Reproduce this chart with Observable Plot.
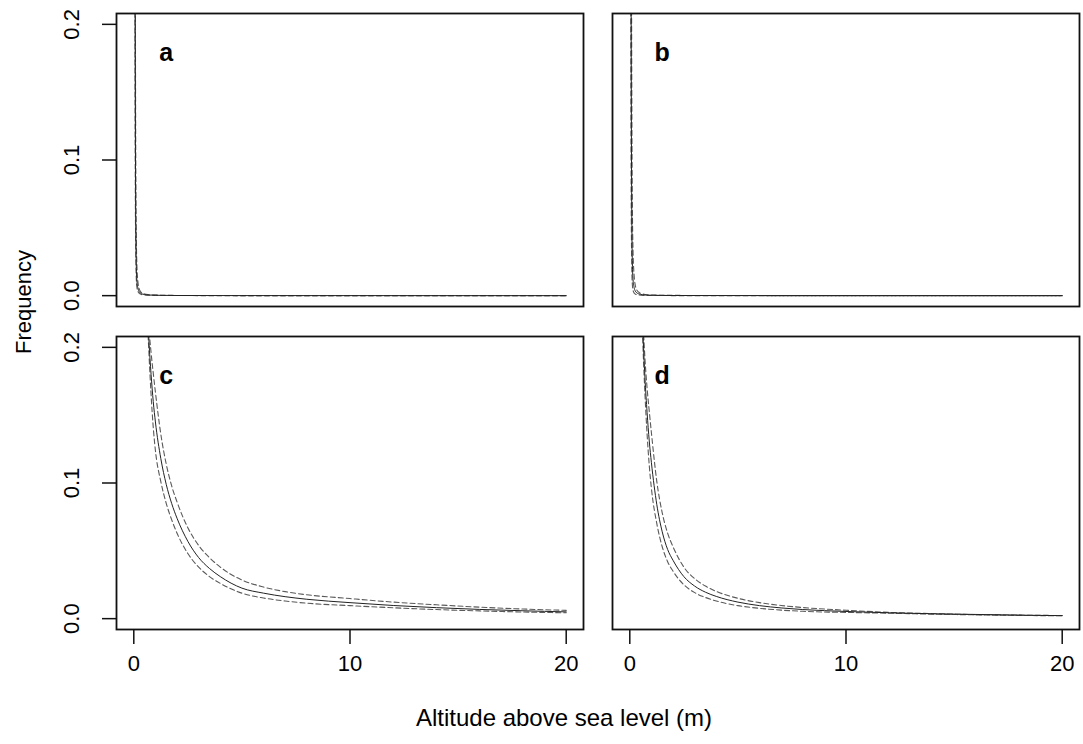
<!DOCTYPE html>
<html>
<head>
<meta charset="utf-8">
<script src="https://cdn.jsdelivr.net/npm/d3@7"></script>
<script src="https://cdn.jsdelivr.net/npm/@observablehq/plot@0.6"></script>
<style>
  html, body { margin: 0; padding: 0; background: #fff; }
  #wrap { position: relative; width: 1083px; height: 744px; font-family: "Liberation Sans", Arial, Helvetica, sans-serif; color: #000; }
  .lab { position: absolute; white-space: nowrap; }
</style>
</head>
<body>
<div id="wrap"></div>
<script>
// ---- data ----
const panels = ["a", "b", "c", "d"];
const panelCol = ["L", "R", "L", "R"];
const panelRow = ["T", "T", "B", "B"];

// top panels (a, b): sample altitudes
const xTop = [0.02, 0.04, 0.05, 0.06, 0.07, 0.08, 0.1, 0.12, 0.15, 0.2, 0.25, 0.3, 0.4, 0.5, 0.7, 1, 2, 5, 10, 20];
const aFit   = [2.0, 0.8, 0.45, 0.26, 0.15, 0.09, 0.04, 0.02, 0.01, 0.005, 0.003, 0.002, 0.0012, 0.0008, 0.0005, 0.0003, 0.0001, 0.00004, 0.00002, 0.00001];
const aUpper = [2.5, 1.1, 0.65, 0.4, 0.25, 0.16, 0.075, 0.04, 0.02, 0.009, 0.005, 0.0033, 0.0019, 0.0012, 0.0007, 0.0004, 0.00015, 0.00005, 0.00002, 0.00001];
const aLower = [1.2, 0.45, 0.25, 0.14, 0.08, 0.05, 0.022, 0.011, 0.0055, 0.0028, 0.0018, 0.0012, 0.0007, 0.0005, 0.0003, 0.0002, 0.00007, 0.00003, 0.00001, 0.000005];
const bFit   = [1.8, 0.7, 0.4, 0.24, 0.15, 0.095, 0.045, 0.024, 0.012, 0.006, 0.0035, 0.0024, 0.0014, 0.0009, 0.0005, 0.0003, 0.0001, 0.00004, 0.00002, 0.00001];
const bUpper = [3.0, 1.4, 0.9, 0.55, 0.36, 0.24, 0.12, 0.065, 0.033, 0.015, 0.008, 0.005, 0.0027, 0.0017, 0.0009, 0.0005, 0.0002, 0.00007, 0.00003, 0.00001];
const bLower = [0.9, 0.3, 0.16, 0.09, 0.055, 0.035, 0.015, 0.008, 0.004, 0.002, 0.0012, 0.0008, 0.0005, 0.0003, 0.0002, 0.0001, 0.00005, 0.00002, 0.00001, 0.000005];

// bottom panels (c, d)
const xBottom = [0.5, 0.6, 0.7, 0.8, 0.9, 1, 1.25, 1.5, 1.75, 2, 2.5, 3, 3.5, 4, 5, 6, 7, 8, 10, 12, 14, 16, 18, 20];
const cFit   = [0.29, 0.24, 0.205, 0.18, 0.16, 0.145, 0.118, 0.099, 0.085, 0.074, 0.057, 0.045, 0.037, 0.031, 0.0225, 0.0188, 0.0162, 0.0143, 0.0118, 0.0097, 0.0081, 0.0068, 0.0058, 0.005];
const cUpper = [0.3, 0.25, 0.215, 0.196, 0.181, 0.167, 0.136, 0.114, 0.098, 0.086, 0.067, 0.054, 0.045, 0.038, 0.0285, 0.0233, 0.0199, 0.0176, 0.0148, 0.0122, 0.0102, 0.0085, 0.0071, 0.0061];
const cLower = [0.28, 0.232, 0.196, 0.165, 0.141, 0.124, 0.101, 0.085, 0.073, 0.063, 0.048, 0.038, 0.031, 0.026, 0.0188, 0.0152, 0.013, 0.0114, 0.0096, 0.008, 0.0067, 0.0057, 0.0049, 0.0043];
const dFit   = [0.27, 0.215, 0.178, 0.152, 0.131, 0.115, 0.084, 0.064, 0.051, 0.043, 0.031, 0.024, 0.0195, 0.0164, 0.0122, 0.0096, 0.0079, 0.0067, 0.0053, 0.0043, 0.0036, 0.0031, 0.0026, 0.0022];
const dUpper = [0.28, 0.225, 0.192, 0.17, 0.153, 0.137, 0.101, 0.078, 0.063, 0.053, 0.038, 0.0295, 0.024, 0.0201, 0.015, 0.0118, 0.0097, 0.0082, 0.0062, 0.0046, 0.0037, 0.003, 0.0026, 0.0023];
const dLower = [0.26, 0.205, 0.166, 0.136, 0.113, 0.096, 0.07, 0.053, 0.042, 0.035, 0.025, 0.0192, 0.0156, 0.013, 0.0096, 0.0076, 0.0063, 0.0054, 0.0046, 0.004, 0.0033, 0.0028, 0.0024, 0.0021];

const xTicks = [0, 10, 20];
const yTicks = [0, 0.1, 0.2];
const xTitle = "Altitude above sea level (m)";
const yTitle = "Frequency";

// ---- build tables ----
const seriesByPanel = {
  a: {xs: xTop, fit: aFit, upper: aUpper, lower: aLower},
  b: {xs: xTop, fit: bFit, upper: bUpper, lower: bLower},
  c: {xs: xBottom, fit: cFit, upper: cUpper, lower: cLower},
  d: {xs: xBottom, fit: dFit, upper: dUpper, lower: dLower}
};
const rows = [];
panels.forEach((p, i) => {
  const s = seriesByPanel[p];
  ["fit", "upper", "lower"].forEach(k => {
    s.xs.forEach((x, j) => rows.push({panel: p, col: panelCol[i], row: panelRow[i], series: k, key: p + k, x, y: s[k][j]}));
  });
});
const solid = rows.filter(d => d.series === "fit");
const dashed = rows.filter(d => d.series !== "fit");
const letters = panels.map((p, i) => ({label: p, col: panelCol[i], row: panelRow[i]}));

const font = '"Liberation Sans", Arial, Helvetica, sans-serif';
const chart = Plot.plot({
  width: 1083,
  height: 744,
  marginLeft: 116,
  marginRight: 4,
  marginTop: 13,
  marginBottom: 114,
  style: {fontFamily: font, fontSize: "22px", color: "#000", background: "#fff"},
  x: {domain: [-0.8, 20.8]},
  y: {domain: [-0.008, 0.208]},
  fx: {domain: ["L", "R"], axis: null, paddingInner: 0.0585, paddingOuter: 0},
  fy: {domain: ["T", "B"], axis: null, paddingInner: 0.0926, paddingOuter: 0},
  marks: [
    Plot.line(dashed, {x: "x", y: "y", z: "key", fx: "col", fy: "row", stroke: "#5a5a5a", strokeWidth: 1.1, strokeDasharray: "5,3", curve: "monotone-x", clip: true}),
    Plot.line(solid, {x: "x", y: "y", z: "key", fx: "col", fy: "row", stroke: "#222", strokeWidth: 1, curve: "monotone-x", clip: true}),
    Plot.text(letters, {fx: "col", fy: "row", x: () => 1.5, y: () => 0.179, text: "label", fontWeight: "bold", fontSize: 25, fill: "#000"}),
    Plot.frame({stroke: "#111", strokeWidth: 1.8}),
    Plot.axisX({ticks: xTicks, tickSize: 15, tickPadding: 11, label: null, fontSize: 22, stroke: "#111", strokeWidth: 1.5}),
    // y tick marks
    Plot.axisY({ticks: yTicks, tickSize: 14, tickFormat: () => "", label: null, stroke: "#111", strokeWidth: 1.5}),
    // y tick labels, rotated as in the reference
    Plot.axisY({ticks: yTicks, tickFormat: d3.format(".1f"), tickSize: 0, tickPadding: 38, rotate: -90, textAnchor: "middle", lineAnchor: "bottom", label: null, fontSize: 22})
  ]
});

const wrap = document.getElementById("wrap");
chart.style.position = "absolute"; chart.style.left = "0"; chart.style.top = "0";
wrap.appendChild(chart);
const xl = document.createElement("div");
xl.className = "lab";
xl.textContent = xTitle;
xl.style.fontSize = "24px";
xl.style.left = "564px"; xl.style.top = "718px"; xl.style.transform = "translate(-50%, -50%)";
wrap.appendChild(xl);
const yl = document.createElement("div");
yl.className = "lab";
yl.textContent = yTitle;
yl.style.fontSize = "22px";
yl.style.left = "24px"; yl.style.top = "302px"; yl.style.transform = "translate(-50%, -50%) rotate(-90deg)";
wrap.appendChild(yl);
</script>
</body>
</html>
